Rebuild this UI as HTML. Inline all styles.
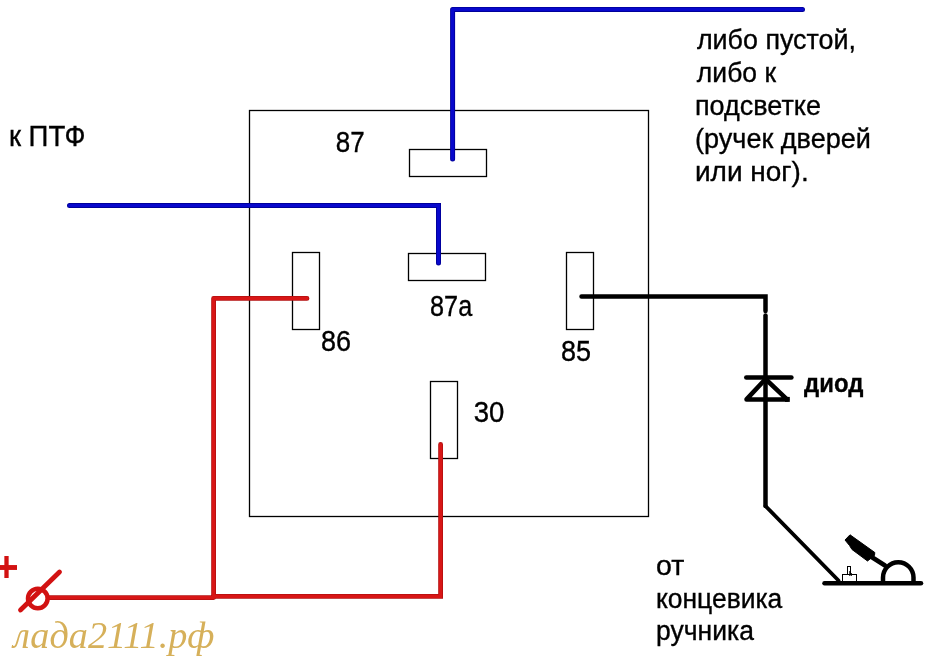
<!DOCTYPE html>
<html><head><meta charset="utf-8">
<style>
html,body{margin:0;padding:0;background:#fff;width:927px;height:659px;overflow:hidden}
svg{display:block;will-change:transform}
text{font-family:"Liberation Sans",sans-serif;fill:#000;stroke:#000;stroke-width:0.35}
text.wm{font-family:"Liberation Serif",serif;font-style:italic;fill:#d6b05a;stroke:none}
</style></head><body>
<svg width="927" height="659" viewBox="0 0 927 659">
<rect x="0" y="0" width="927" height="659" fill="#fff"/>

<!-- relay box -->
<rect x="249.5" y="110.5" width="399" height="406" fill="none" stroke="#000" stroke-width="1.3"/>
<!-- pins -->
<g fill="none" stroke="#000" stroke-width="1.3">
<rect x="409.5" y="149.5" width="77" height="27"/>
<rect x="408.5" y="253.5" width="77" height="27"/>
<rect x="292.5" y="252.5" width="27" height="77"/>
<rect x="566.5" y="252.5" width="27" height="77"/>
<rect x="430.5" y="381.5" width="27" height="77"/>
</g>
<!-- blue wires -->
<g fill="none" stroke="#00009a" stroke-width="5" stroke-linecap="round" stroke-linejoin="round">
<path d="M452.6 159 V9.4 H802.5"/>
<path d="M69.5 205.5 H438.5 V263" stroke-linejoin="miter"/>
</g>
<g fill="none" stroke="#0808cc" stroke-width="3.2" stroke-linecap="round" stroke-linejoin="round">
<path d="M452.6 159 V9.4 H802.5"/>
<path d="M69.5 205.5 H438.5 V263" stroke-linejoin="miter"/>
</g>
<!-- red wires -->
<g fill="none" stroke="#b41010" stroke-width="4.8" stroke-linecap="round" stroke-linejoin="miter">
<path d="M307 298.4 H213.6 V597.5" stroke-linejoin="round"/>
<path d="M49 597.6 H213.6" stroke-linecap="butt"/>
<path d="M213.6 596.3 H440.6 V444.5"/>
</g>
<g fill="none" stroke="#d81616" stroke-width="3.2" stroke-linecap="round" stroke-linejoin="miter">
<path d="M307 298.4 H213.6 V597.5" stroke-linejoin="round"/>
<path d="M49 597.6 H213.6" stroke-linecap="butt"/>
<path d="M213.6 596.3 H440.6 V444.5"/>
</g>
<g fill="none" stroke="#d21212" stroke-width="4.8" stroke-linecap="round">
<circle cx="37.8" cy="598.5" r="9.8" stroke-width="4.5"/>
<path d="M20.5 610 L59.5 572" stroke-width="4.8"/>
<path d="M6.5 556 V578" stroke-linecap="butt" stroke-width="4.3"/>
<path d="M0 567.5 H17" stroke-linecap="butt" stroke-width="4.9"/>
</g>
<!-- black wire -->
<g fill="none" stroke="#000" stroke-width="4.5" stroke-linecap="round" stroke-linejoin="miter">
<path d="M581.5 296.4 H765.5 V311"/>
<path d="M765.5 315.5 V506"/>
<path d="M765.5 506 L838.5 580.5" stroke-width="3.8"/>
<path d="M824.5 583.3 H921"/>
<path d="M746.3 377.5 H791.4"/>
<path d="M746.5 399.4 L765.5 379 L787 399.4 Z" stroke-linejoin="round"/>
<path d="M883 581 V577.5 A15.05 15.05 0 0 1 913.5 577.5 V581"/>
<path d="M872 557.3 L885 565.5" stroke-width="4.6"/>
</g>
<rect x="785" y="396.9" width="4.8" height="5" fill="#000"/>
<polygon points="845,540 850,534.8 874.8,552.5 874.5,555.5 867.5,561 852,549.5 849.5,545.5" fill="#000" stroke="#000" stroke-width="1" stroke-linejoin="round"/>
<g fill="none" stroke="#000" stroke-width="1">
<rect x="842.5" y="574.5" width="14" height="7"/>
<rect x="847.5" y="566.5" width="3" height="8"/>
<path d="M849.8 571 V576 M851.3 573 V576"/>
</g>

<text x="10" y="146.3" font-size="29" font-weight="normal" stroke-width="0.65" transform="matrix(0.9519,0,0,1,-0.62,0)">к ПТФ</text>
<text x="335" y="152.5" font-size="29.5" font-weight="normal" stroke-width="0.65" transform="matrix(0.8806,0,0,1,40.80,0)">87</text>
<text x="429" y="316.4" font-size="29.5" font-weight="normal" stroke-width="0.65" transform="matrix(0.8563,0,0,1,62.71,0)">87a</text>
<text x="320" y="351.4" font-size="29.5" font-weight="normal" stroke-width="0.65" transform="matrix(0.9161,0,0,1,27.82,0)">86</text>
<text x="560" y="361.4" font-size="29.5" font-weight="normal" stroke-width="0.65" transform="matrix(0.9161,0,0,1,47.95,0)">85</text>
<text x="473" y="422.5" font-size="29.5" font-weight="normal" stroke-width="0.65" transform="matrix(0.9323,0,0,1,32.81,0)">30</text>
<text x="803" y="391.6" font-size="26.3" font-weight="bold" stroke="#fff" stroke-width="0.6" transform="matrix(0.9092,0,0,1,73.99,0)">диод</text>
<text x="695" y="49" font-size="28" font-weight="normal" stroke-width="0.5" transform="matrix(0.9604,0,0,1,29.45,0)">либо пустой,</text>
<text x="695" y="81.9" font-size="28" font-weight="normal" stroke-width="0.5" transform="matrix(0.9464,0,0,1,39.13,0)">либо к</text>
<text x="695" y="115.5" font-size="28" font-weight="normal" stroke-width="0.5" transform="matrix(0.9648,0,0,1,24.40,0)">подсветке</text>
<text x="695" y="148.1" font-size="28" font-weight="normal" stroke-width="0.5" transform="matrix(0.9669,0,0,1,23.00,0)">(ручек дверей</text>
<text x="695" y="181.2" font-size="28" font-weight="normal" stroke-width="0.5" transform="matrix(1.0009,0,0,1,-0.74,0)">или ног).</text>
<text x="656" y="575.1" font-size="27.8" font-weight="normal" stroke-width="0.5" transform="matrix(1.0269,0,0,1,-17.59,0)">от</text>
<text x="656" y="607.9" font-size="27.8" font-weight="normal" stroke-width="0.5" transform="matrix(0.9511,0,0,1,32.05,0)">концевика</text>
<text x="656" y="640.3" font-size="27.8" font-weight="normal" stroke-width="0.5" transform="matrix(0.9535,0,0,1,30.52,0)">ручника</text>
<text class="wm" x="10" y="648.5" font-size="38" transform="matrix(1.0060,0,0,1,3.15,0)">лада2111.рф</text>
</svg>
</body></html>
